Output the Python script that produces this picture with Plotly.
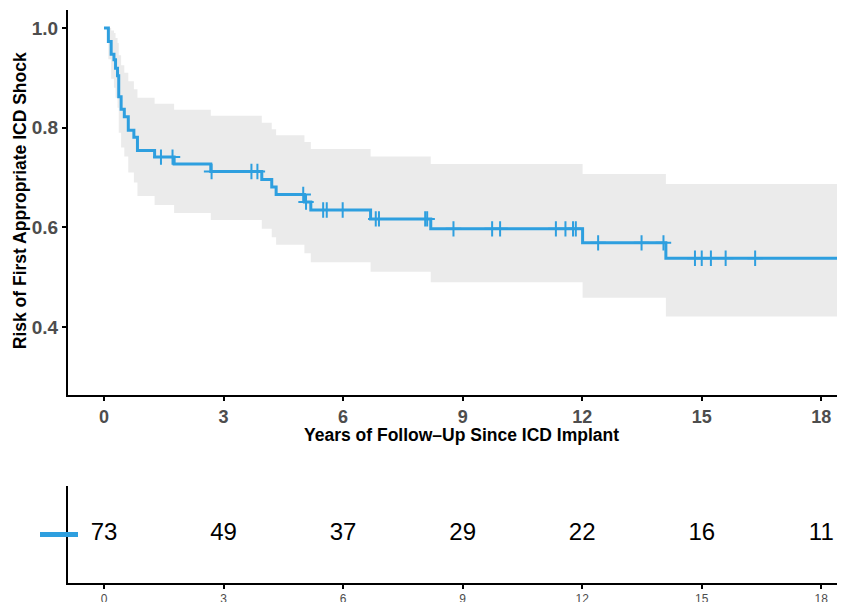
import numpy as np
import plotly.graph_objects as go

# ---------------- data ----------------
event_times = [0.11, 0.18, 0.25, 0.29, 0.34, 0.37, 0.43, 0.51, 0.61, 0.75, 0.84,
               1.27, 1.76, 2.68, 3.96, 4.21, 4.32, 5.03, 5.19, 6.69, 8.20, 12.01, 14.10]
surv = [0.973, 0.947, 0.936, 0.919, 0.904, 0.862, 0.837, 0.822, 0.795, 0.781, 0.754,
        0.741, 0.727, 0.712, 0.696, 0.681, 0.666, 0.651, 0.635, 0.617, 0.597, 0.569, 0.538]
upper = [1.0, 0.995, 0.99, 0.98, 0.97, 0.945, 0.925, 0.91, 0.893, 0.877, 0.86,
         0.848, 0.836, 0.824, 0.81, 0.797, 0.785, 0.771, 0.757, 0.742, 0.727, 0.707, 0.687]
lower = [0.937, 0.898, 0.88, 0.86, 0.84, 0.79, 0.76, 0.742, 0.71, 0.69, 0.663,
         0.645, 0.629, 0.615, 0.597, 0.58, 0.565, 0.548, 0.530, 0.511, 0.490, 0.459, 0.421]
censor_times = [1.43, 1.72, 2.70, 3.70, 3.85, 5.00, 5.07, 5.50, 5.59, 5.99, 6.82, 6.90,
                8.06, 8.11, 8.77, 9.74, 9.94, 11.34, 11.58, 11.77, 11.84, 12.40, 13.49,
                14.04, 14.83, 15.00, 15.23, 15.60, 16.34]
max_time = 18.7

risk_times = [0, 3, 6, 9, 12, 15, 18]
n_at_risk = [73, 49, 37, 29, 22, 16, 11]
x_ticks = [0, 3, 6, 9, 12, 15, 18]
y_ticks = [0.4, 0.6, 0.8, 1.0]
y_ticklabels = ["0.4", "0.6", "0.8", "1.0"]

BLUE = "#2E9FDF"
FONT = "Liberation Sans"

# ---------------- step data ----------------
t_all = np.array([0.0] + event_times + [max_time])
s_all = np.array([1.0] + surv + [surv[-1]])
u_all = np.array([1.0] + upper + [upper[-1]])
l_all = np.array([1.0] + lower + [lower[-1]])


def step_xy(t, v):
    xs, ys = [], []
    for i in range(len(t)):
        if i > 0:
            xs.append(t[i]); ys.append(v[i - 1])
        xs.append(t[i]); ys.append(v[i])
    return xs, ys


ux, uy = step_xy(t_all, u_all)
lx, ly = step_xy(t_all, l_all)
band_x = ux + lx[::-1]
band_y = uy + ly[::-1]

sx, sy = step_xy(t_all, s_all)

ct = np.array(censor_times)
idx = np.searchsorted(t_all, ct, side="right") - 1
censor_surv = s_all[idx]

fig = go.Figure()

fig.add_trace(go.Scatter(x=band_x, y=band_y, fill="toself", fillcolor="#ebebeb",
                         line=dict(width=0), mode="lines", hoverinfo="skip",
                         showlegend=False, xaxis="x", yaxis="y"))
fig.add_trace(go.Scatter(x=sx, y=sy, mode="lines", line=dict(color=BLUE, width=3),
                         showlegend=False, xaxis="x", yaxis="y"))
fig.add_trace(go.Scatter(x=ct, y=censor_surv, mode="markers",
                         marker=dict(symbol="cross-thin", size=11,
                                     line=dict(color=BLUE, width=2)),
                         showlegend=False, xaxis="x", yaxis="y"))

fig.add_trace(go.Scatter(x=risk_times, y=[0] * len(risk_times), mode="text",
                         text=[str(n) for n in n_at_risk],
                         textfont=dict(size=24, color="black", family=FONT),
                         showlegend=False, xaxis="x2", yaxis="y2", cliponaxis=False))

xr = [-0.903, 18.595]
axis_common = dict(showgrid=False, zeroline=False, showline=True, linecolor="black",
                   linewidth=2, ticks="outside", tickcolor="black", tickwidth=1.5,
                   ticklen=4, automargin=False)

# the page body adds an 8px offset, so the figure is 8px smaller than the window
fig.update_layout(
    width=837, height=594,
    margin=dict(l=60, r=0, t=2, b=19, autoexpand=False),
    paper_bgcolor="white", plot_bgcolor="white",
    xaxis=dict(domain=[0, 1], range=xr, tickvals=x_ticks, anchor="y",
               tickfont=dict(size=18, color="#4d4d4d", family=FONT, weight="bold"),
               **axis_common),
    yaxis=dict(domain=[0.3281, 1], range=[0.2638, 1.036], tickvals=y_ticks,
               ticktext=y_ticklabels, anchor="x",
               tickfont=dict(size=19, color="#4d4d4d", family=FONT, weight="bold"),
               **axis_common),
    xaxis2=dict(domain=[0, 1], range=xr, tickvals=x_ticks, anchor="y2",
                tickfont=dict(size=12, color="#4d4d4d", family=FONT),
                **axis_common),
    yaxis2=dict(domain=[0, 0.1693], range=[-1, 1], anchor="x2", showgrid=False,
                zeroline=False, showline=True, linecolor="black", linewidth=2,
                showticklabels=False, ticks="", automargin=False),
    annotations=[
        dict(text="Years of Follow\u2013Up Since ICD Implant", xref="paper", yref="paper",
             x=0.507, y=0.258, xanchor="center", yanchor="middle", showarrow=False,
             font=dict(size=17.5, color="black", family=FONT, weight="bold")),
        dict(text="Risk of First Appropriate ICD Shock", xref="paper", yref="paper",
             x=-0.0618, y=0.668, xanchor="center", yanchor="middle", showarrow=False,
             textangle=-90,
             font=dict(size=17.5, color="black", family=FONT, weight="bold")),
    ],
    shapes=[
        dict(type="line", xref="paper", yref="y2", x0=(40 - 68) / 777, x1=(78 - 68) / 777,
             y0=0, y1=0, line=dict(color=BLUE, width=5)),
    ],
)

fig.write_html("out.html")
